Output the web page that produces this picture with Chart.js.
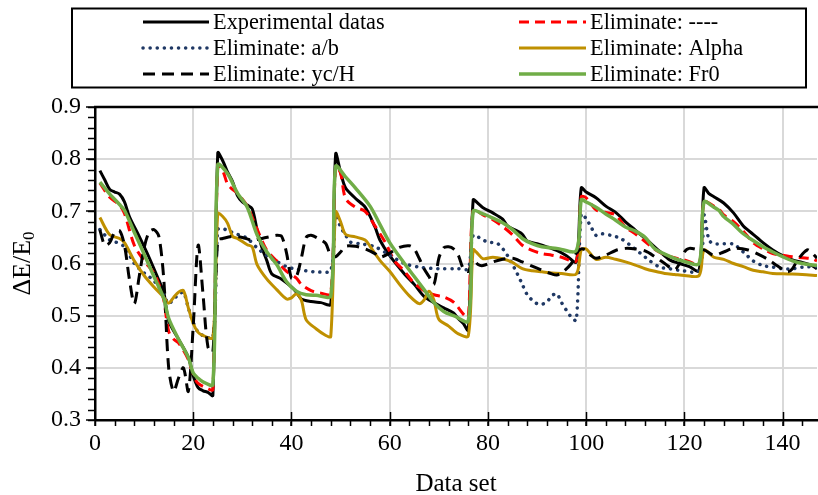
<!DOCTYPE html>
<html><head><meta charset="utf-8">
<script src="https://cdn.jsdelivr.net/npm/chart.js@4/dist/chart.umd.min.js"></script>
<style>html,body{margin:0;padding:0;background:#fff;overflow:hidden}#wrap{width:818px;height:495px;position:relative}</style>
</head><body><div id="wrap"><canvas id="c" width="818" height="495"></canvas></div>
<script>
const seriesNames = ['Experimental datas','Eliminate: ----','Eliminate: a/b','Eliminate: Alpha','Eliminate: yc/H','Eliminate: Fr0'];
const xTickLabels = [0,20,40,60,80,100,120,140];
const yTickLabels = [0.3,0.4,0.5,0.6,0.7,0.8,0.9];

const expX = [1,2,3,4,5,6,7,9,11,13,14,15,17,19,20,21,22,23,24, 25,26,27,28,29,30,31,32,33,34,35,36,38,40,41,42,44,46,48, 49,50,51,53,55,57,58,60,63,65,67,69,71,73,74,75,76, 77,78,79,81,83,84,86,87,88,90,92,94,96,98, 99,100,102,104,106,108,110,112,113,115,117,119,121,123, 124,125,126,128,130,132,134,136,138,140,142,144,146,147];
const expY = [0.778,0.76,0.742,0.737,0.733,0.718,0.69,0.652,0.612,0.568,0.545,0.49,0.455,0.42,0.385,0.362,0.356,0.353,0.347, 0.812,0.797,0.775,0.757,0.73,0.718,0.712,0.705,0.665,0.63,0.605,0.58,0.57,0.555,0.545,0.532,0.527,0.525,0.522, 0.81,0.775,0.745,0.725,0.708,0.67,0.645,0.615,0.58,0.56,0.537,0.525,0.515,0.505,0.494,0.485,0.472, 0.722,0.715,0.707,0.697,0.685,0.672,0.662,0.656,0.643,0.638,0.632,0.625,0.615,0.603, 0.745,0.737,0.726,0.71,0.698,0.68,0.664,0.648,0.64,0.623,0.607,0.6,0.594,0.586, 0.745,0.734,0.728,0.716,0.697,0.672,0.656,0.64,0.626,0.615,0.607,0.602,0.596,0.59];

const noneX = [1,3,5,6,8,10,12,13,14,15,16,17,19,20,21,23,24, 25,26,27,28,29,31,33,35,37,39,41,42,44,46,48, 49,50,51,53,55,57,59,61,63,65,67,69,71,73,75,76, 77,79,81,83,85,87,89,91,93,95,98, 99,100,102,104,106,108,110,112,114,116,118,120,123, 124,126,127,128,130,132,134,136,138,140,142,144,146,147];
const noneY = [0.754,0.727,0.712,0.696,0.635,0.605,0.582,0.56,0.53,0.47,0.455,0.448,0.416,0.385,0.37,0.36,0.358, 0.789,0.778,0.752,0.742,0.735,0.71,0.666,0.625,0.605,0.585,0.572,0.56,0.548,0.543,0.542, 0.786,0.773,0.725,0.708,0.7,0.672,0.642,0.605,0.585,0.562,0.548,0.54,0.536,0.526,0.503,0.497, 0.703,0.693,0.684,0.671,0.655,0.635,0.625,0.619,0.616,0.612,0.605, 0.728,0.726,0.703,0.698,0.693,0.67,0.657,0.642,0.627,0.617,0.611,0.607,0.6, 0.718,0.71,0.705,0.693,0.68,0.662,0.64,0.628,0.619,0.616,0.613,0.611,0.609,0.605];

const abX = [1,3,4,6,8,10,12,14,15,16,17,18,19,20,21,22,24, 25,26,27,29,31,33,35,37,39,41,43,45,48, 49,50,51,52,54,57,60,63,66,70,74,76, 77,79,80,82,84,86,87,88,89,90,91,92,93,94,95,96,97,98, 99,100,101,102,103,105,107,109,111,113,115,117,119,123, 124,125,126,128,130,132,134,136,138,140,142,144,147];
const abY = [0.665,0.645,0.642,0.632,0.6,0.582,0.567,0.54,0.523,0.532,0.54,0.545,0.515,0.487,0.468,0.462,0.458, 0.665,0.667,0.663,0.656,0.648,0.63,0.615,0.604,0.594,0.589,0.586,0.584,0.587, 0.693,0.67,0.655,0.641,0.638,0.632,0.616,0.6,0.593,0.59,0.59,0.59, 0.654,0.645,0.641,0.638,0.615,0.58,0.56,0.54,0.53,0.523,0.522,0.526,0.538,0.542,0.525,0.51,0.497,0.491, 0.695,0.686,0.67,0.654,0.657,0.654,0.648,0.635,0.62,0.605,0.593,0.59,0.587,0.587, 0.693,0.645,0.638,0.638,0.637,0.622,0.605,0.596,0.593,0.59,0.59,0.593,0.594];

const alphaX = [1,3,5,6,8,10,12,14,15,16,17,18,19,20,21,22,24, 25,26,27,28,29,31,32,33,35,37,39,40,41,42,43,45,47,48, 49,50,51,53,55,56,58,60,62,64,66,67,68,69,70,72,74,76, 77,78,79,81,83,85,87,89,91,93,95,98, 99,100,102,104,106,108,110,112,114,116,118,120,123, 124,126,128,130,132,134,136,138,141,144,147];
const alphaY = [0.688,0.655,0.648,0.64,0.605,0.577,0.555,0.535,0.524,0.535,0.545,0.548,0.515,0.485,0.468,0.462,0.458, 0.696,0.69,0.677,0.652,0.648,0.636,0.632,0.598,0.57,0.55,0.532,0.534,0.542,0.53,0.492,0.475,0.462,0.46, 0.699,0.68,0.656,0.651,0.645,0.633,0.606,0.585,0.56,0.538,0.523,0.53,0.547,0.53,0.493,0.48,0.465,0.461, 0.626,0.618,0.609,0.612,0.609,0.602,0.59,0.586,0.584,0.582,0.581,0.58, 0.626,0.628,0.608,0.612,0.608,0.603,0.597,0.59,0.585,0.581,0.579,0.577,0.577, 0.626,0.612,0.608,0.6,0.594,0.587,0.584,0.581,0.58,0.579,0.577];

const ycX = [1,2,3,4,5,6,7,8,9,10,11,12,13,14,15,16,17,18,19,20,21,22,23,24, 25,26,28,30,32,34,36,37,38,39,40,41,42,43,44,46,47,48, 49,50,51,53,55,57,58,60,62,64,65,66,67,68,69,70,71,72,73,74,75,76, 77,78,79,81,83,85,87,89,91,93,94,95,97,98, 99,100,101,102,104,106,108,110,112,114,116,118,119,120,121,123, 124,126,128,130,133,135,137,139,141,142,143,145,146,147];
const ycY = [0.664,0.635,0.64,0.66,0.663,0.635,0.57,0.523,0.575,0.63,0.66,0.665,0.652,0.57,0.40,0.355,0.38,0.40,0.355,0.48,0.635,0.54,0.44,0.43, 0.645,0.648,0.652,0.65,0.645,0.648,0.652,0.654,0.652,0.62,0.572,0.575,0.61,0.65,0.654,0.645,0.638,0.616, 0.613,0.622,0.633,0.633,0.628,0.619,0.612,0.62,0.631,0.634,0.628,0.61,0.59,0.575,0.56,0.61,0.63,0.632,0.628,0.615,0.59,0.585, 0.608,0.598,0.596,0.603,0.608,0.61,0.603,0.595,0.587,0.58,0.578,0.582,0.6,0.62, 0.628,0.625,0.615,0.61,0.616,0.625,0.629,0.628,0.624,0.613,0.6,0.588,0.6,0.622,0.629,0.626, 0.626,0.616,0.622,0.629,0.626,0.618,0.608,0.595,0.584,0.59,0.606,0.626,0.62,0.61];

const fr0X = [1,3,5,6,8,10,12,14,15,17,19,20,21,22,24, 25,27,29,31,33,35,37,39,41,43,45,48, 49,51,53,56,58,60,63,65,67,69,71,73,76, 77,79,81,83,85,87,89,91,94,98, 99,100,102,104,106,108,110,112,114,116,118,120,123, 124,126,127,128,130,132,134,136,138,140,142,144,147];
const fr0Y = [0.756,0.733,0.713,0.702,0.66,0.618,0.575,0.533,0.495,0.455,0.42,0.39,0.38,0.373,0.368, 0.789,0.772,0.735,0.708,0.655,0.622,0.598,0.565,0.547,0.54,0.539,0.538, 0.786,0.766,0.745,0.71,0.675,0.64,0.6,0.575,0.55,0.525,0.508,0.5,0.49, 0.7,0.695,0.687,0.678,0.665,0.648,0.638,0.632,0.629,0.625, 0.722,0.718,0.708,0.695,0.683,0.67,0.662,0.65,0.628,0.618,0.61,0.604,0.6, 0.718,0.708,0.702,0.69,0.675,0.657,0.644,0.632,0.622,0.613,0.605,0.6,0.596];

const FONT = "'Liberation Serif','Times New Roman',serif";
const pts = (xs, ys) => xs.map((x, i) => ({x: x, y: ys[i]}));

const styles = [
  {color:'#000000', width:3, dash:[], cap:'butt', order:5},
  {color:'#ff0000', width:3, dash:[10,6], cap:'butt', order:4},
  {color:'#1f3864', width:3.5, dash:[0.1,7], cap:'round', order:3},
  {color:'#bf9000', width:3, dash:[], cap:'butt', order:2},
  {color:'#000000', width:3, dash:[12,7], cap:'butt', order:1},
  {color:'#70ad47', width:3.5, dash:[], cap:'butt', order:0}
];
const seriesData = [pts(expX,expY), pts(noneX,noneY), pts(abX,abY), pts(alphaX,alphaY), pts(ycX,ycY), pts(fr0X,fr0Y)];

const datasets = seriesNames.map((n, i) => ({
  label: n, data: seriesData[i],
  borderColor: styles[i].color, backgroundColor: styles[i].color,
  borderWidth: styles[i].width, borderDash: styles[i].dash, borderCapStyle: styles[i].cap,
  borderJoinStyle: 'round', pointRadius: 0, tension: 0.3, fill: false, order: styles[i].order
}));

const decor = {
  id: 'decor',
  afterDraw(chart) {
    const ctx = chart.ctx, a = chart.chartArea, xs = chart.scales.x, ys = chart.scales.y;
    ctx.save();
    ctx.strokeStyle = '#000'; ctx.lineWidth = 2.5;
    ctx.beginPath(); ctx.moveTo(a.left - 1, a.top); ctx.lineTo(a.right + 2, a.top); ctx.stroke();
    ctx.lineWidth = 1.5;
    ctx.beginPath();
    for (let v = 0; v <= 147; v += 4) {
      const px = Math.round(xs.getPixelForValue(v)) + 0.5;
      ctx.moveTo(px, a.bottom); ctx.lineTo(px, a.bottom + 6);
    }
    for (let k = 0; k <= 30; k++) {
      const py = Math.round(ys.getPixelForValue(0.3 + k * 0.02)) + 0.5;
      ctx.moveTo(a.left, py); ctx.lineTo(a.left - 7, py);
    }
    xTickLabels.forEach(v => {
      if (v === 0) return;
      const px = Math.round(xs.getPixelForValue(v)) + 0.5;
      ctx.moveTo(px, a.bottom); ctx.lineTo(px, a.bottom - 8);
    });
    ctx.stroke();
    ctx.fillStyle = '#000';
    ctx.font = '25px ' + FONT; ctx.textAlign = 'center'; ctx.textBaseline = 'middle';
    ctx.fillText('Data set', (a.left + a.right) / 2, 484);
    ctx.save();
    ctx.translate(23, (a.top + a.bottom) / 2);
    ctx.rotate(-Math.PI / 2);
    ctx.font = '26px ' + FONT;
    const w1 = ctx.measureText('\u0394E/E').width;
    ctx.font = '17px ' + FONT;
    const w2 = ctx.measureText('0').width;
    ctx.textAlign = 'left';
    const sx = -(w1 + w2) / 2;
    ctx.font = '26px ' + FONT;
    ctx.fillText('\u0394E/E', sx, 0);
    ctx.font = '17px ' + FONT;
    ctx.fillText('0', sx + w1, 7);
    ctx.restore();
    ctx.lineWidth = 2; ctx.strokeStyle = '#000';
    ctx.strokeRect(72, 8.5, 734, 79);
    ctx.textAlign = 'left'; ctx.textBaseline = 'middle';
    seriesNames.forEach((n, i) => {
      const col = i % 2, row = Math.floor(i / 2);
      const x0 = col ? 519 : 143, x1 = col ? 586 : 209, y = 22 + row * 26;
      const s = styles[i];
      ctx.save();
      ctx.strokeStyle = s.color; ctx.lineWidth = s.width; ctx.setLineDash(s.dash); ctx.lineCap = s.cap;
      ctx.beginPath(); ctx.moveTo(x0, y); ctx.lineTo(x1, y); ctx.stroke();
      ctx.restore();
      ctx.save();
      ctx.fillStyle = '#000';
      ctx.translate(x1 + 4, y + 1);
      ctx.scale(0.93, 1);
      ctx.font = '24px ' + FONT;
      ctx.fillText(n, 0, 0);
      ctx.restore();
    });
    ctx.restore();
  }
};

new Chart(document.getElementById('c'), {
  type: 'line',
  data: { datasets: datasets },
  options: {
    responsive: false, animation: false, devicePixelRatio: 1,
    layout: { padding: { top: 107, right: 1, left: 0, bottom: 0 } },
    plugins: { legend: { display: false }, tooltip: { enabled: false } },
    scales: {
      x: {
        type: 'linear', min: 0, max: 147,
        afterFit: s => { s.height = 75; },
        afterBuildTicks: s => { s.ticks = xTickLabels.map(v => ({value: v})); },
        ticks: { color: '#000', font: { family: FONT, size: 24 }, padding: 3, maxRotation: 0, callback: v => String(v) },
        grid: { color: c => (c.tick && c.tick.value === 0) ? 'rgba(0,0,0,0)' : '#d9d9d9', lineWidth: 2, tickColor: '#000', tickLength: 6, tickWidth: 1.5 },
        border: { color: '#000', width: 2.5 }
      },
      y: {
        min: 0.3, max: 0.9,
        afterFit: s => { s.width = 95; },
        afterBuildTicks: s => { s.ticks = yTickLabels.map(v => ({value: v})); },
        ticks: { color: '#000', font: { family: FONT, size: 24 }, padding: 5, callback: v => Number(v).toFixed(1) },
        grid: { color: c => (c.tick && (Math.abs(c.tick.value - 0.3) < 1e-6 || Math.abs(c.tick.value - 0.9) < 1e-6)) ? 'rgba(0,0,0,0)' : '#d9d9d9', lineWidth: 2, tickColor: '#000', tickLength: 9, tickWidth: 1.5 },
        border: { color: '#000', width: 2.5 }
      }
    }
  },
  plugins: [decor]
});
</script></body></html>
